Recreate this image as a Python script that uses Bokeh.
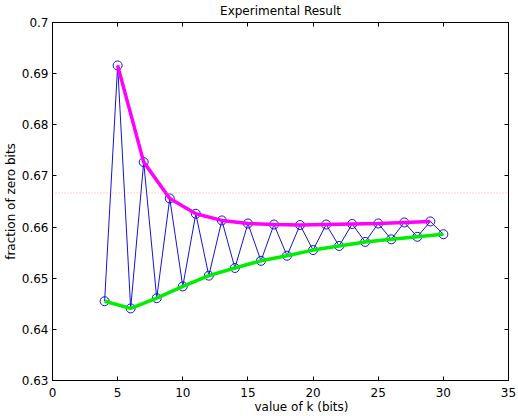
from bokeh.plotting import figure
from bokeh.models import LinearAxis, Range1d, FixedTicker, Span
from bokeh.embed import file_html
from bokeh.resources import INLINE

k_bits = list(range(4, 31))
fraction_zero = [0.6455, 0.6916, 0.6441, 0.6727, 0.6461, 0.6656, 0.6484, 0.6626,
                 0.6505, 0.6613, 0.6520, 0.6607, 0.6534, 0.6605, 0.6544, 0.6604,
                 0.6555, 0.6605, 0.6563, 0.6606, 0.6571, 0.6607, 0.6576, 0.6609,
                 0.6581, 0.6611, 0.6586]
odd_k = k_bits[1::2]
odd_vals = fraction_zero[1::2]
even_k = k_bits[0::2]
even_vals = fraction_zero[0::2]
reference_level = 2.0 / 3.0
x_ticks = [0, 5, 10, 15, 20, 25, 30, 35]
y_ticks = [0.63, 0.64, 0.65, 0.66, 0.67, 0.68, 0.69, 0.70]
x_min, x_max = 0, 35
y_min, y_max = 0.63, 0.70
title_text = "Experimental Result"
x_label = "value of k  (bits)"
y_label = "fraction of zero bits"

FONT = "DejaVu Sans"
FS = "12px"

p = figure(width=518, height=416, output_backend="svg", toolbar_location=None,
           x_range=Range1d(x_min, x_max), y_range=Range1d(y_min, y_max),
           min_border_left=52, min_border_right=10, min_border_top=22, min_border_bottom=35,
           x_axis_location=None, y_axis_location=None)
p.grid.visible = False
p.outline_line_color = "black"
p.background_fill_color = "white"
p.border_fill_color = "white"

p.title.text = title_text
p.title.align = "center"
p.title.vertical_align = "top"
p.title.text_font = FONT
p.title.text_font_size = FS
p.title.text_font_style = "normal"
p.title.text_color = "black"
p.title.standoff = 6


def mk_axis(ticks, show_labels=True):
    ax = LinearAxis(ticker=FixedTicker(ticks=ticks))
    ax.major_tick_in = 4
    ax.major_tick_out = 0
    ax.minor_tick_in = 0
    ax.minor_tick_out = 0
    ax.axis_line_color = "black"
    ax.axis_line_width = 1
    ax.major_tick_line_color = "black"
    ax.major_label_text_font = FONT
    ax.major_label_text_font_size = FS
    ax.major_label_text_color = "black"
    if not show_labels:
        ax.major_label_overrides = {t: "" for t in ticks}
        ax.major_label_standoff = 0
    return ax


xb = mk_axis(x_ticks)
xb.major_label_standoff = 7
# leading no-break spaces reproduce the right-shifted label of the original
xb.axis_label = "\u00a0" * 12 + x_label
xb.axis_label_text_font = FONT
xb.axis_label_text_font_size = FS
xb.axis_label_text_font_style = "normal"
xb.axis_label_text_color = "black"
xb.axis_label_standoff = 0
p.add_layout(xb, "below")

yl = mk_axis(y_ticks)
yl.major_label_standoff = 4
yl.axis_label = y_label
yl.axis_label_text_font = FONT
yl.axis_label_text_font_size = FS
yl.axis_label_text_font_style = "normal"
yl.axis_label_text_color = "black"
yl.axis_label_standoff = 1
p.add_layout(yl, "left")

p.add_layout(mk_axis(x_ticks, show_labels=False), "above")
p.add_layout(mk_axis(y_ticks, show_labels=False), "right")

p.add_layout(Span(location=reference_level, dimension="width", line_color="#ff8080",
                  line_width=1, line_dash="1 2", line_alpha=0.7))

p.line(k_bits, fraction_zero, line_color="#1414d2", line_width=1)
p.scatter(k_bits, fraction_zero, marker="circle", size=9, fill_color=None,
          line_color="#1414d2", line_width=1)
p.line(odd_k, odd_vals, line_color="#ff00ff", line_width=3.5)
p.line(even_k, even_vals, line_color="#00ee00", line_width=3.5)

open("out.html", "w").write(file_html(p, INLINE))
